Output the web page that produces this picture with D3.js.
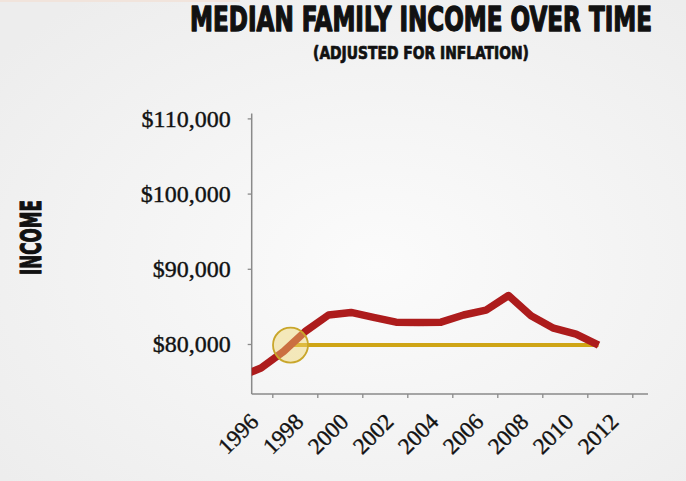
<!DOCTYPE html>
<html>
<head>
<meta charset="utf-8">
<script src="https://cdn.jsdelivr.net/npm/d3@7"></script>
<style>
  html, body { margin: 0; padding: 0; background: #f4f4f4; }
  #container { width: 686px; height: 481px; }
</style>
</head>
<body>
<div id="container"></div>
<script>
// median family income (dollars, inflation adjusted)
let years = [1995, 1996, 1997, 1998, 1999, 2000, 2001, 2002, 2003,
             2004, 2005, 2006, 2007, 2008, 2009, 2010, 2011];
let incomes = [75600, 76800, 79000, 81750, 83850, 84200, 83550, 82900, 82850,
               82900, 83850, 84500, 86450, 83750, 82100, 81300, 79850];

let yTicks = [80000, 90000, 100000, 110000];
let xTickYears = [1996, 1998, 2000, 2002, 2004, 2006, 2008, 2010, 2012];

let w = 686;
let h = 481;

let data = years.map(function(d, i){ return {year: d, value: incomes[i]}; });

let viz = d3.select("#container")
    .append("svg")
    .attr("width", w)
    .attr("height", h)
    ;

// soft paper-ish background
let defs = viz.append("defs");
let bg = defs.append("radialGradient").attr("id", "bg")
    .attr("cx", "55%").attr("cy", "55%").attr("r", "70%");
bg.append("stop").attr("offset", "0%").attr("stop-color", "#fbfbfb");
bg.append("stop").attr("offset", "100%").attr("stop-color", "#ededed");
viz.append("rect").attr("width", w).attr("height", h).attr("fill", "url(#bg)");
viz.append("rect").attr("width", 240).attr("height", 2).attr("fill", "#f1e4dc");

// slight blur so the red line looks like the video frame
defs.append("filter").attr("id", "soft")
    .append("feGaussianBlur").attr("stdDeviation", 0.7);

// plot box (named so they don't clash with window.top etc)
let plotLeft = 251.7, plotRight = 648, plotTop = 113.5, plotBottom = 394;

// scales
let yScale = d3.scaleLinear().domain([73350, 110650]).range([plotBottom, plotTop]);
// in the original the year labels sit half a year before the data points
let xScale = d3.scaleLinear().domain([1996.5, 2012.5]).range([272.3, 632.3]);

defs.append("clipPath").attr("id", "plot")
    .append("rect")
    .attr("x", plotLeft).attr("y", plotTop - 20)
    .attr("width", plotRight - plotLeft).attr("height", plotBottom - plotTop + 20);

// heavy condensed headings: bold text squeezed to the wanted width
// (measure first, then scale horizontally, so nothing sticks out)
function heading(x, y, rot, size, len, txt) {
    let g = viz.append("g")
        .attr("transform", "translate(" + x + "," + y + ") rotate(" + rot + ")");
    let t = g.append("text")
        .attr("text-anchor", "middle")
        .attr("font-family", "'DejaVu Sans Condensed', 'DejaVu Sans', sans-serif")
        .attr("font-weight", "bold")
        .attr("font-size", size)
        .attr("fill", "#111")
        .attr("stroke", "#111")
        .attr("stroke-width", size * 0.04)
        .attr("stroke-linejoin", "round")
        .text(txt);
    let natural = t.node().getComputedTextLength();
    t.attr("transform", "scale(" + (len / natural) + ",1)");
    return t;
}

heading(421, 31, 0, 33, 462, "MEDIAN FAMILY INCOME OVER TIME");
heading(421, 59, 0, 18, 216, "(ADJUSTED FOR INFLATION)");
heading(40.5, 237.5, -90, 28, 75, "INCOME");

// y axis
let yAxis = d3.axisLeft(yScale)
    .tickValues(yTicks)
    .tickSize(4)
    .tickPadding(17)
    .tickFormat(d => "$" + d3.format(",")(d));
let yAxisGroup = viz.append("g").attr("transform", "translate(" + plotLeft + ",0)");
yAxisGroup.call(yAxis);
yAxisGroup.select(".domain").remove();
yAxisGroup.append("line")
    .attr("y1", plotTop).attr("y2", plotBottom)
    .attr("stroke", "#8a8a8a").attr("stroke-width", 1.5);
yAxisGroup.selectAll(".tick line").attr("stroke", "#8a8a8a").attr("stroke-width", 1.3);
yAxisGroup.selectAll("text")
    .attr("font-family", "'Liberation Serif', 'DejaVu Serif', serif")
    .attr("font-size", 24)
    .attr("fill", "#111")
    .attr("stroke", "#111")
    .attr("stroke-width", 0.4);

// x axis
let xAxis = d3.axisBottom(xScale)
    .tickValues(xTickYears.map(d => d + 0.5))
    .tickSize(4)
    .tickFormat(d => d - 0.5);
let xAxisGroup = viz.append("g").attr("transform", "translate(0," + plotBottom + ")");
xAxisGroup.call(xAxis);
xAxisGroup.select(".domain").remove();
xAxisGroup.append("line")
    .attr("x1", plotLeft).attr("x2", plotRight)
    .attr("stroke", "#8a8a8a").attr("stroke-width", 1.5);
xAxisGroup.selectAll(".tick line").attr("stroke", "#8a8a8a").attr("stroke-width", 1.3);
xAxisGroup.selectAll("text")
    .attr("font-family", "'Liberation Serif', 'DejaVu Serif', serif")
    .attr("font-size", 23)
    .attr("fill", "#111")
    .attr("stroke", "#111")
    .attr("stroke-width", 0.4)
    .attr("text-anchor", "end")
    .attr("y", 0).attr("dy", 0)
    .attr("transform", "translate(-13,29) rotate(-45)");

// reference level = last year's income, and where the line first crosses it
let last = data[data.length - 1];
let crossYear = null;
for (let i = 1; i < data.length; i++) {
    let a = data[i-1], b = data[i];
    if (a.value <= last.value && b.value >= last.value) {
        crossYear = a.year + (last.value - a.value) / (b.value - a.value) * (b.year - a.year);
        break;
    }
}

let graphGroup = viz.append("g").classed("graphGroup", true);

graphGroup.append("line")
    .attr("x1", xScale(crossYear)).attr("x2", xScale(last.year))
    .attr("y1", yScale(last.value)).attr("y2", yScale(last.value))
    .attr("stroke", "#cfa516")
    .attr("stroke-width", 4);

let line = d3.line()
    .x(d => xScale(d.year))
    .y(d => yScale(d.value));

graphGroup.append("path")
    .datum(data)
    .attr("clip-path", "url(#plot)")
    .attr("d", line)
    .attr("fill", "none")
    .attr("stroke", "#ad1b1d")
    .attr("stroke-width", 7.5)
    .attr("stroke-linejoin", "round")
    .attr("filter", "url(#soft)");

graphGroup.append("circle")
    .attr("cx", xScale(crossYear))
    .attr("cy", yScale(last.value))
    .attr("r", 17.5)
    .attr("fill", "rgba(240, 212, 110, 0.45)")
    .attr("stroke", "#c9a62a")
    .attr("stroke-width", 1.8);
</script>
</body>
</html>
